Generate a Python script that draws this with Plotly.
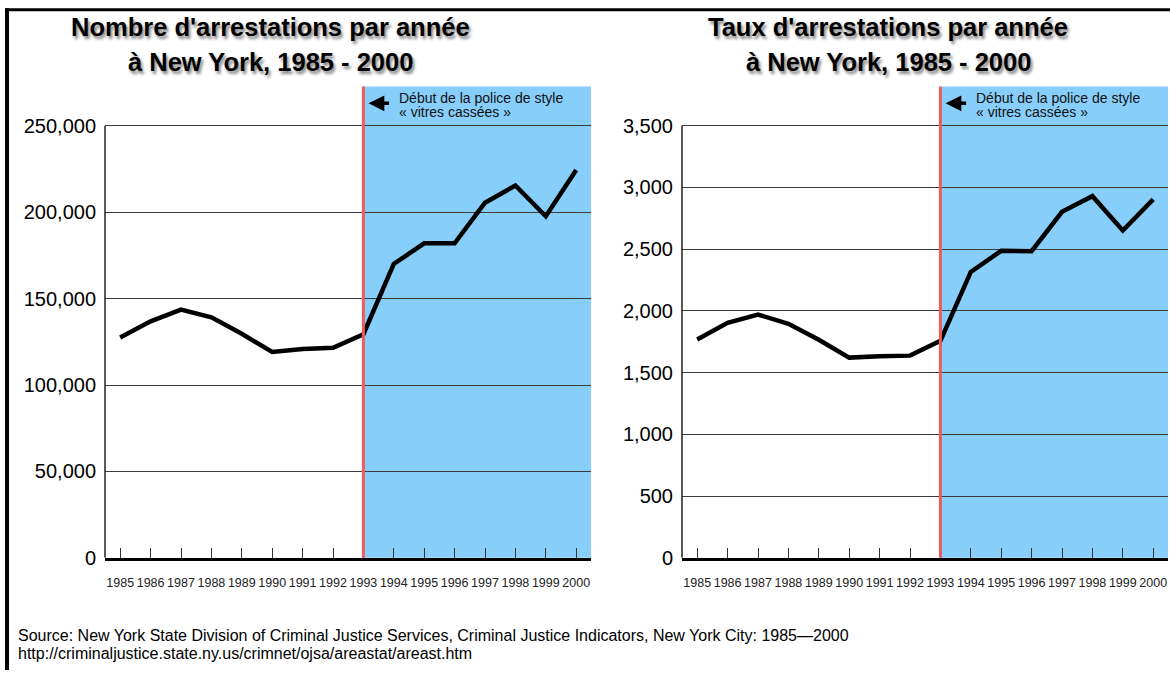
import plotly.graph_objects as go

years = list(range(1985, 2001))
arrests = [127500, 136900, 143700, 139200, 129700, 119100, 120800, 121600,
           129400, 170100, 182000, 182000, 205500, 215500, 197700, 224400]
rates = [1769, 1904, 1971, 1896, 1766, 1622, 1633, 1638,
         1758, 2316, 2487, 2484, 2803, 2930, 2652, 2904]
left_ticks = [0, 50000, 100000, 150000, 200000, 250000]
right_ticks = [0, 500, 1000, 1500, 2000, 2500, 3000, 3500]
policy_year = 1993
title_left = ["Nombre d'arrestations par année", "à New York, 1985 - 2000"]
title_right = ["Taux d'arrestations par année", "à New York, 1985 - 2000"]
note_lines = ["Début de la police de style", "« vitres cassées »"]
source_lines = ["Source: New York State Division of Criminal Justice Services, Criminal Justice Indicators, New York City: 1985—2000",
                "http://criminaljustice.state.ny.us/crimnet/ojsa/areastat/areast.htm"]

W, H = 1170, 681
NARROW = "Liberation Sans Narrow, Liberation Sans, Arial, sans-serif"
SANS = "Liberation Sans, Arial, sans-serif"
BLUE = "#87cefa"
RED = "#ef5b5b"
YEAR_PX = 30.4  # pixel spacing between years in the reference
PLOT_TOP, PLOT_BOTTOM = 88, 567


def fx(p):
    return min(1.0, max(0.0, p / W))


def fy(p):
    return min(1.0, max(0.0, 1 - p / H))


def dom_y(p):
    return (PLOT_BOTTOM - p) / (PLOT_BOTTOM - PLOT_TOP)


fig = go.Figure()
fig.add_trace(go.Scatter(x=years, y=arrests, mode="lines",
                         line=dict(color="black", width=4.5), xaxis="x", yaxis="y",
                         showlegend=False, hoverinfo="x+y"))
fig.add_trace(go.Scatter(x=years, y=rates, mode="lines",
                         line=dict(color="black", width=4.5), xaxis="x2", yaxis="y2",
                         showlegend=False, hoverinfo="x+y"))

ydom = [fy(PLOT_BOTTOM), fy(PLOT_TOP)]
xdom1 = [fx(105), fx(591)]
xdom2 = [fx(682), fx(1168)]
xmax1 = 1984.5 + (591 - 105) / YEAR_PX
xmax2 = 1984.5 + (1168 - 682) / YEAR_PX

xcommon = dict(tickvals=years, ticktext=[str(y) for y in years],
               tickangle=0, showgrid=False, zeroline=False, showline=True,
               linecolor="black", linewidth=3,
               ticks="inside", ticklen=10, tickwidth=1, tickcolor="#333",
               tickfont=dict(family=NARROW, size=12.5, color="#222"),
               ticklabelstandoff=11, fixedrange=True)
ycommon = dict(showgrid=True, gridcolor="#3a3a3a", gridwidth=1, zeroline=False,
               showline=False, ticks="", tickformat=",d",
               tickfont=dict(family=SANS, size=20, color="black"),
               ticklabelstandoff=8, fixedrange=True)

top_left = 250000 + (128 - PLOT_TOP) / 88 * 50000
top_right = 3500 + (128 - PLOT_TOP) / 63 * 500

fig.update_layout(
    width=W, height=H, margin=dict(l=0, r=0, t=0, b=0),
    paper_bgcolor="white", plot_bgcolor="white",
    xaxis=dict(domain=xdom1, anchor="y", range=[1984.5, xmax1], **xcommon),
    xaxis2=dict(domain=xdom2, anchor="y2", range=[1984.5, xmax2], **xcommon),
    yaxis=dict(domain=ydom, anchor="x", range=[0, top_left], tickvals=left_ticks, **ycommon),
    yaxis2=dict(domain=ydom, anchor="x2", range=[0, top_right], tickvals=right_ticks, **ycommon),
)

shapes = []
annotations = []
for xa, ya, ymax in (("x", "y", left_ticks[-1]), ("x2", "y2", right_ticks[-1])):
    shapes.append(dict(type="rect", xref=xa, yref=ya + " domain", x0=policy_year, x1=2001,
                       y0=0, y1=1, fillcolor=BLUE, line=dict(width=0), layer="below"))
    shapes.append(dict(type="line", xref=xa + " domain", yref=ya, x0=0, x1=0, y0=0, y1=ymax,
                       line=dict(color="#222", width=1.5), layer="above"))
    shapes.append(dict(type="line", xref=xa, yref=ya + " domain", x0=policy_year, x1=policy_year,
                       y0=0, y1=1, line=dict(color=RED, width=3), layer="above"))
    annotations.append(dict(xref=xa, yref=ya + " domain", x=policy_year + 0.17, y=dom_y(105),
                            text="", showarrow=True, ax=22, ay=0, arrowhead=2,
                            arrowsize=0.9, arrowwidth=3.5, arrowcolor="black"))
    for py, line in zip((100, 114), note_lines):
        annotations.append(dict(xref=xa, yref=ya + " domain", x=policy_year + 1.15, y=dom_y(py),
                                text=line, showarrow=False, xanchor="left", yanchor="middle",
                                align="left", borderpad=0,
                                font=dict(family=NARROW, size=14, color="#111")))

title_font = dict(family=SANS, size=25.5, color="black", weight="bold", shadow="2px 3px 3px #888")
for cx, lines in ((270, title_left), (888, title_right)):
    for cy, line in zip((27, 63), lines):
        annotations.append(dict(xref="paper", yref="paper", x=fx(cx), y=fy(cy), text=line,
                                showarrow=False, xanchor="center", yanchor="middle",
                                borderpad=0, font=title_font))

for cy, line in zip((646, 664), source_lines):
    annotations.append(dict(xref="paper", yref="paper", x=fx(17), y=fy(cy), text=line,
                            showarrow=False, xanchor="left", yanchor="middle", borderpad=0,
                            font=dict(family=NARROW, size=16, color="black")))

# frame (left and top edges)
shapes.append(dict(type="line", xref="paper", yref="paper", x0=fx(7), x1=fx(7), y0=0, y1=fy(8.5),
                   line=dict(color="black", width=4)))
shapes.append(dict(type="line", xref="paper", yref="paper", x0=fx(5), x1=1, y0=fy(10), y1=fy(10),
                   line=dict(color="black", width=3)))

fig.update_layout(shapes=shapes, annotations=annotations)

# remove the default page margin so the figure fills the window exactly
page_fit = ("document.body.style.margin='0';document.body.style.overflow='hidden';"
            "document.documentElement.style.overflow='hidden';"
            "document.body.style.height='681px';")
fig.write_html("out.html", post_script=page_fit, config={"displayModeBar": False})
